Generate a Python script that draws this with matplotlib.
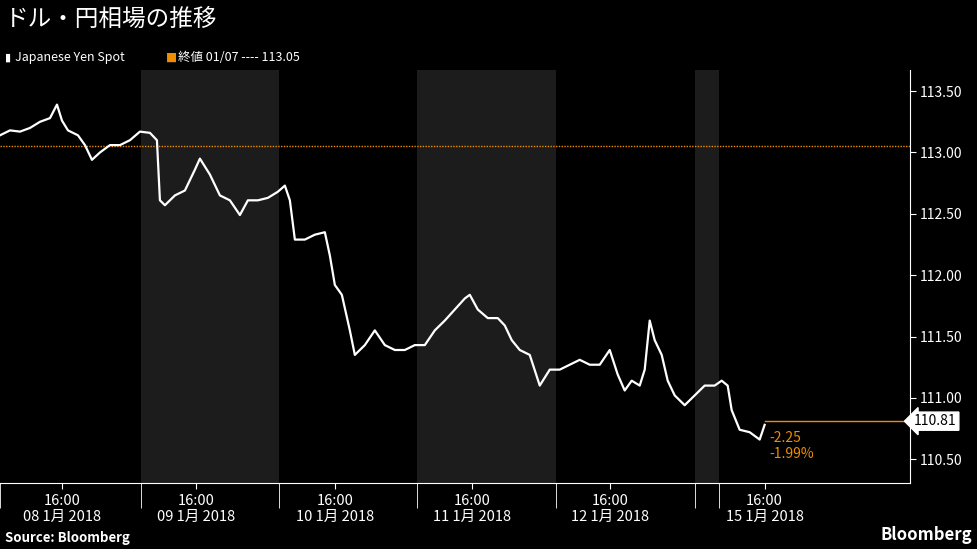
import matplotlib
matplotlib.use("Agg")
import matplotlib.pyplot as plt

plt.rcParams['font.family'] = ['Noto Sans CJK JP', 'DejaVu Sans']

def v(y):
    return 113.5 - (y - 91) / 122.7

px = [0,10,20,30,40,50,57,62,68,78,85,92,100,110,120,130,140,150,157,160,165,175,185,195,200,210,220,230,240,248,258,268,278,285,290,295,305,315,325,330,335,342,350,355,365,375,385,395,405,415,425,435,445,455,465,470,478,488,498,505,512,520,530,540,550,560,570,580,590,600,610,618,625,632,640,645,650,655,662,668,675,685,695,705,715,722,728,732,740,750,760,765]
py = [135,130,132,128,122,118,105,120,130,135,145,160,152,145,145,140,132,133,140,200,205,195,190,170,158,175,195,200,215,200,200,198,192,185,200,240,240,235,232,255,285,295,330,355,345,330,345,350,350,345,345,330,320,310,298,295,310,318,318,325,340,350,355,385,370,370,365,360,365,365,350,375,390,380,385,370,320,340,355,380,395,405,395,385,385,380,385,410,430,432,440,425]
price = [round(v(y), 2) for y in py]
last = 110.81
ref = 113.05
shade = [(141, 279), (417, 556), (695, 719)]
tick_x = [62, 196, 335, 472, 610, 765]
tick_lab = ["16:00\n08 1月 2018", "16:00\n09 1月 2018", "16:00\n10 1月 2018",
            "16:00\n11 1月 2018", "16:00\n12 1月 2018", "16:00\n15 1月 2018"]
yt = [110.5, 111.0, 111.5, 112.0, 112.5, 113.0, 113.5]

fig = plt.figure(figsize=(9.77, 5.49), dpi=100, facecolor='black')
ax = fig.add_axes([0, 0.12, 0.931, 0.752], facecolor='black')
ax.set_xlim(0, 910)
ax.set_ylim(110.305, 113.67)
for a, b in shade:
    ax.axvspan(a, b, color='#1c1c1c', lw=0)
ax.axhline(ref, color='#f08c00', lw=1, ls=(0, (1, 1)))
ax.plot(px, price, color='white', lw=1.6)
ax.plot([px[-1], 910], [last, last], color='#f08c00', lw=1)
ax.text(770, 110.67, "-2.25", color='#f08c00', fontsize=10, va='center')
ax.text(770, 110.54, "-1.99%", color='#f08c00', fontsize=10, va='center')

ax.yaxis.tick_right()
ax.set_yticks(yt)
ax.set_yticklabels([f"{t:.2f}" for t in yt], color='white', fontsize=10)
ax.set_xticks(tick_x)
ax.set_xticklabels(tick_lab, color='white', fontsize=10.5)
ax.set_xticks([0, 141, 279, 417, 556, 695, 719], minor=True)
ax.tick_params(colors='white', length=4)
ax.tick_params(axis='x', which='minor', colors='white', length=18)
for s in ['top', 'left']:
    ax.spines[s].set_visible(False)
ax.spines['right'].set_color('white')
ax.spines['bottom'].set_color('white')
ax.text(1.005, (last - 110.305) / (113.67 - 110.305), "110.81", transform=ax.transAxes,
        color='black', fontsize=10, va='center',
        bbox=dict(boxstyle='larrow,pad=0.15', fc='white', ec='white'))

fig.text(0.005, 0.965, "ドル・円相場の推移", color='white', fontsize=17, va='center')
fig.text(0.005, 0.895, "▮", color='white', fontsize=8, va='center', family='DejaVu Sans')
fig.text(0.015, 0.895, "Japanese Yen Spot", color='white', fontsize=9, va='center')
fig.text(0.17, 0.895, "■", color='#f08c00', fontsize=8.5, va='center', family='DejaVu Sans')
fig.text(0.182, 0.895, "終値 01/07 ---- 113.05", color='white', fontsize=9, va='center')
fig.text(0.005, 0.02, "Source: Bloomberg", color='white', fontsize=9.5, fontweight='bold', va='center')
fig.text(0.995, 0.025, "Bloomberg", color='white', fontsize=12, fontweight='bold', va='center', ha='right')
fig.savefig("out.png", facecolor='black')
